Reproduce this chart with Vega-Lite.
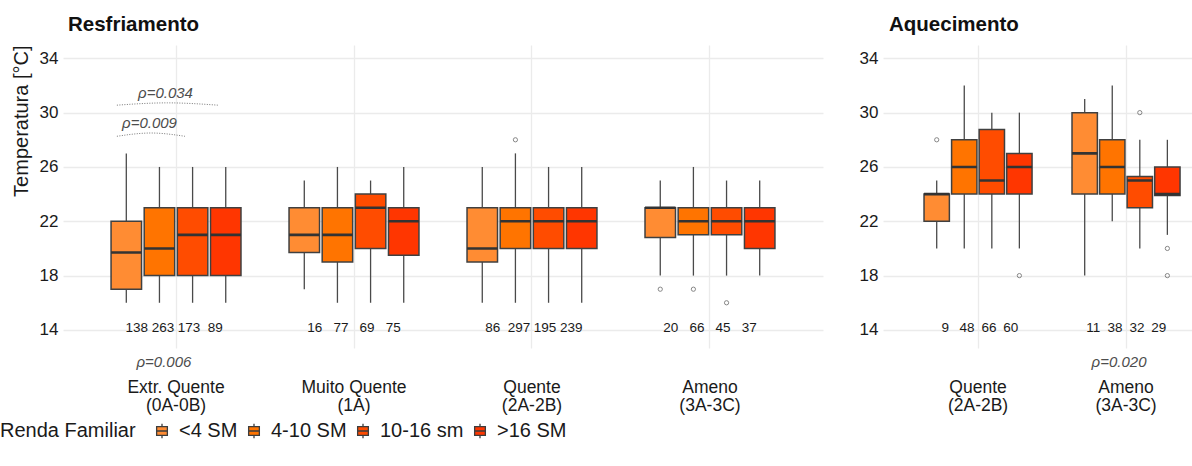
{
  "$schema": "https://vega.github.io/schema/vega-lite/v6.json",
  "background": "white",
  "padding": {"left": 0, "top": 14, "right": 0, "bottom": 0},
  "autosize": {"type": "pad"},
  "spacing": 36,
  "resolve": {"scale": {"xOffset": "independent"}},
  "config": {
    "font": "Liberation Sans",
    "view": {"stroke": null},
    "axisX": {
      "domain": false, "ticks": false, "grid": true, "gridColor": "#ebebeb", "gridWidth": 1.3,
      "bandPosition": 0.5, "labelAngle": 0, "labelFontSize": 17.5, "labelColor": "#1a1a1a",
      "labelPadding": 30, "labelLineHeight": 18, "labelExpr": "split(datum.label, '\\n')", "title": null, "labelOverlap": false
    },
    "axisY": {
      "domain": false, "ticks": false, "grid": true, "gridColor": "#ebebeb", "gridWidth": 1.3,
      "labelFontSize": 17, "labelColor": "#1a1a1a", "labelPadding": 5,
      "titleFontSize": 20, "titleFontWeight": "normal", "titleColor": "#1a1a1a", "titleAnchor": "end", "titlePadding": 8
    },
    "title": {"fontSize": 20.5, "fontWeight": "bold", "color": "#111111", "anchor": "start", "frame": "group", "offset": 10},
    "text": {"fontSize": 13.5, "color": "#1a1a1a", "baseline": "middle"},
    "legend": {
      "orient": "none", "legendX": -63, "legendY": 376, "direction": "horizontal", "titleOrient": "left",
      "titleFontSize": 20, "titleFontWeight": "normal", "titleColor": "#1a1a1a", "titlePadding": 16,
      "labelFontSize": 20, "labelColor": "#1a1a1a", "labelOffset": 7, "columnPadding": 6,
      "symbolType": "M-0.62,-0.5H0.62V0.5H-0.62Z M-0.62,0H0.62 M0,-0.85V-0.5 M0,0.5V0.85",
      "symbolSize": 300, "symbolStrokeColor": "#3d3d3d", "symbolStrokeWidth": 1.3, "symbolOpacity": 1
    }
  },
  "datasets": {
    "stats_r": [
      {"clima": "Extr. Quente\n(0A-0B)", "renda": "<4 SM", "lo": 16, "q1": 17, "med": 19.7, "q3": 22, "hi": 27, "n": 138},
      {"clima": "Extr. Quente\n(0A-0B)", "renda": "4-10 SM", "lo": 16, "q1": 18, "med": 20, "q3": 23, "hi": 26, "n": 263},
      {"clima": "Extr. Quente\n(0A-0B)", "renda": "10-16 sm", "lo": 16, "q1": 18, "med": 21, "q3": 23, "hi": 26, "n": 173},
      {"clima": "Extr. Quente\n(0A-0B)", "renda": ">16 SM", "lo": 16, "q1": 18, "med": 21, "q3": 23, "hi": 26, "n": 89},
      {"clima": "Muito Quente\n(1A)", "renda": "<4 SM", "lo": 17, "q1": 19.7, "med": 21, "q3": 23, "hi": 25, "n": 16},
      {"clima": "Muito Quente\n(1A)", "renda": "4-10 SM", "lo": 16, "q1": 19, "med": 21, "q3": 23, "hi": 26, "n": 77},
      {"clima": "Muito Quente\n(1A)", "renda": "10-16 sm", "lo": 16, "q1": 20, "med": 23, "q3": 24, "hi": 25, "n": 69},
      {"clima": "Muito Quente\n(1A)", "renda": ">16 SM", "lo": 16, "q1": 19.5, "med": 22, "q3": 23, "hi": 26, "n": 75},
      {"clima": "Quente\n(2A-2B)", "renda": "<4 SM", "lo": 16, "q1": 19, "med": 20, "q3": 23, "hi": 26, "n": 86},
      {"clima": "Quente\n(2A-2B)", "renda": "4-10 SM", "lo": 16, "q1": 20, "med": 22, "q3": 23, "hi": 27, "n": 297},
      {"clima": "Quente\n(2A-2B)", "renda": "10-16 sm", "lo": 16, "q1": 20, "med": 22, "q3": 23, "hi": 26, "n": 195},
      {"clima": "Quente\n(2A-2B)", "renda": ">16 SM", "lo": 16, "q1": 20, "med": 22, "q3": 23, "hi": 26, "n": 239},
      {"clima": "Ameno\n(3A-3C)", "renda": "<4 SM", "lo": 18, "q1": 20.8, "med": 23, "q3": 23, "hi": 25, "n": 20},
      {"clima": "Ameno\n(3A-3C)", "renda": "4-10 SM", "lo": 18, "q1": 21, "med": 22, "q3": 23, "hi": 26, "n": 66},
      {"clima": "Ameno\n(3A-3C)", "renda": "10-16 sm", "lo": 18, "q1": 21, "med": 22, "q3": 23, "hi": 25, "n": 45},
      {"clima": "Ameno\n(3A-3C)", "renda": ">16 SM", "lo": 18, "q1": 20, "med": 22, "q3": 23, "hi": 25, "n": 37}
    ],
    "out_r": [
      {"clima": "Quente\n(2A-2B)", "renda": "4-10 SM", "t": 28},
      {"clima": "Ameno\n(3A-3C)", "renda": "<4 SM", "t": 17},
      {"clima": "Ameno\n(3A-3C)", "renda": "4-10 SM", "t": 17},
      {"clima": "Ameno\n(3A-3C)", "renda": "10-16 sm", "t": 16}
    ],
    "arcs_r": [
      {"arc": "a", "x": 0.668, "y": 30.55},
      {"arc": "a", "x": 0.952, "y": 30.72},
      {"arc": "a", "x": 1.236, "y": 30.55},
      {"arc": "b", "x": 0.668, "y": 28.26},
      {"arc": "b", "x": 0.86, "y": 28.5},
      {"arc": "b", "x": 1.05, "y": 28.26}
    ],
    "notes_r": [
      {"x": 0.941, "y": 31.44, "label": "ρ=0.034"},
      {"x": 0.851, "y": 29.22, "label": "ρ=0.009"},
      {"x": 0.932, "y": 11.63, "label": "ρ=0.006"}
    ],
    "stats_a": [
      {"clima": "Quente\n(2A-2B)", "renda": "<4 SM", "lo": 20, "q1": 22, "med": 24, "q3": 24, "hi": 25, "n": 9},
      {"clima": "Quente\n(2A-2B)", "renda": "4-10 SM", "lo": 20, "q1": 24, "med": 26, "q3": 28, "hi": 32, "n": 48},
      {"clima": "Quente\n(2A-2B)", "renda": "10-16 sm", "lo": 20, "q1": 24, "med": 25, "q3": 28.75, "hi": 30, "n": 66},
      {"clima": "Quente\n(2A-2B)", "renda": ">16 SM", "lo": 20, "q1": 24, "med": 26, "q3": 27, "hi": 30, "n": 60},
      {"clima": "Ameno\n(3A-3C)", "renda": "<4 SM", "lo": 18, "q1": 24, "med": 27, "q3": 30, "hi": 31, "n": 11},
      {"clima": "Ameno\n(3A-3C)", "renda": "4-10 SM", "lo": 22, "q1": 24, "med": 26, "q3": 28, "hi": 32, "n": 38},
      {"clima": "Ameno\n(3A-3C)", "renda": "10-16 sm", "lo": 20, "q1": 23, "med": 25, "q3": 25.3, "hi": 28, "n": 32},
      {"clima": "Ameno\n(3A-3C)", "renda": ">16 SM", "lo": 21, "q1": 23.9, "med": 24, "q3": 26, "hi": 28, "n": 29}
    ],
    "out_a": [
      {"clima": "Quente\n(2A-2B)", "renda": "<4 SM", "t": 28},
      {"clima": "Quente\n(2A-2B)", "renda": ">16 SM", "t": 18},
      {"clima": "Ameno\n(3A-3C)", "renda": "10-16 sm", "t": 30},
      {"clima": "Ameno\n(3A-3C)", "renda": ">16 SM", "t": 20},
      {"clima": "Ameno\n(3A-3C)", "renda": ">16 SM", "t": 18}
    ],
    "notes_a": [
      {"x": 1.953, "y": 11.63, "label": "ρ=0.020"}
    ]
  },
  "hconcat": [
    {
      "width": 760,
      "height": 303,
      "title": {"text": "Resfriamento", "dx": 5},
      "resolve": {"scale": {"x": "independent"}},
      "layer": [
        {
          "encoding": {
            "x": {"field": "clima", "type": "nominal", "sort": null, "scale": {"paddingInner": 0.27, "paddingOuter": 0.27, "round": false}},
            "xOffset": {"field": "renda", "type": "nominal", "scale": {"domain": ["<4 SM", "4-10 SM", "10-16 sm", ">16 SM"], "paddingInner": 0.08, "paddingOuter": 0}}
          },
          "layer": [
            {
              "data": {"name": "stats_r"},
              "mark": {"type": "rule", "color": "#4a4a4a", "strokeWidth": 1.3},
              "encoding": {
                "y": {"field": "lo", "type": "quantitative", "scale": {"domain": [12.67, 34.98], "nice": false, "zero": false}, "axis": {"values": [14, 18, 22, 26, 30, 34]}, "title": "Temperatura [°C]"},
                "y2": {"field": "hi"}
              }
            },
            {
              "data": {"name": "stats_r"},
              "mark": {"type": "bar", "stroke": "#404040", "strokeWidth": 1.5, "opacity": 1},
              "encoding": {
                "y": {"field": "q1", "type": "quantitative"},
                "y2": {"field": "q3"},
                "color": {"field": "renda", "type": "nominal", "title": "Renda Familiar",
                  "scale": {"domain": ["<4 SM", "4-10 SM", "10-16 sm", ">16 SM"], "range": ["#ff8c33", "#ff7400", "#ff4c00", "#ff3600"]}}
              }
            },
            {
              "data": {"name": "stats_r"},
              "mark": {"type": "bar", "stroke": "#333333", "strokeWidth": 2.6, "fillOpacity": 0},
              "encoding": {
                "y": {"field": "med", "type": "quantitative"},
                "y2": {"field": "med"}
              }
            },
            {
              "data": {"name": "out_r"},
              "mark": {"type": "point", "shape": "circle", "size": 18, "stroke": "#555555", "strokeWidth": 1, "filled": false},
              "encoding": {
                "y": {"field": "t", "type": "quantitative"}
              }
            },
            {
              "data": {"name": "stats_r"},
              "encoding": {
                "y": {"datum": 14, "type": "quantitative"},
                "text": {"field": "n", "type": "quantitative"}
              },
              "layer": [
                {"transform": [{"filter": "datum.renda == '<4 SM'"}], "mark": {"type": "text", "dx": 10.5, "dy": -2}},
                {"transform": [{"filter": "datum.renda == '4-10 SM'"}], "mark": {"type": "text", "dx": 3.5, "dy": -2}},
                {"transform": [{"filter": "datum.renda == '10-16 sm'"}], "mark": {"type": "text", "dx": -3.5, "dy": -2}},
                {"transform": [{"filter": "datum.renda == '>16 SM'"}], "mark": {"type": "text", "dx": -10.5, "dy": -2}}
              ]
            }
          ]
        },
        {
          "data": {"name": "arcs_r"},
          "mark": {"type": "line", "interpolate": "monotone", "color": "#777777", "strokeWidth": 1, "strokeDash": [1, 1.5]},
          "encoding": {
            "x": {"field": "x", "type": "quantitative", "scale": {"domain": [0.3652, 4.6348], "nice": false, "zero": false}, "axis": null},
            "y": {"field": "y", "type": "quantitative"},
            "detail": {"field": "arc"}
          }
        },
        {
          "data": {"name": "notes_r"},
          "mark": {"type": "text", "fontSize": 15, "fontStyle": "italic", "color": "#4d4d4d", "baseline": "middle"},
          "encoding": {
            "x": {"field": "x", "type": "quantitative", "scale": {"domain": [0.3652, 4.6348], "nice": false, "zero": false}, "axis": null},
            "y": {"field": "y", "type": "quantitative"},
            "text": {"field": "label"}
          }
        }
      ]
    },
    {
      "width": 310,
      "height": 303,
      "title": {"text": "Aquecimento", "dx": 6},
      "resolve": {"scale": {"x": "independent"}},
      "layer": [
        {
          "encoding": {
            "x": {"field": "clima", "type": "nominal", "sort": null, "scale": {"paddingInner": 0.27, "paddingOuter": 0.1824, "align": 0.76, "round": false}},
            "xOffset": {"field": "renda", "type": "nominal", "scale": {"domain": ["<4 SM", "4-10 SM", "10-16 sm", ">16 SM"], "paddingInner": 0.08, "paddingOuter": 0}}
          },
          "layer": [
            {
              "data": {"name": "stats_a"},
              "mark": {"type": "rule", "color": "#4a4a4a", "strokeWidth": 1.3},
              "encoding": {
                "y": {"field": "lo", "type": "quantitative", "scale": {"domain": [12.67, 34.98], "nice": false, "zero": false}, "axis": {"values": [14, 18, 22, 26, 30, 34]}, "title": null},
                "y2": {"field": "hi"}
              }
            },
            {
              "data": {"name": "stats_a"},
              "mark": {"type": "bar", "stroke": "#404040", "strokeWidth": 1.5, "opacity": 1},
              "encoding": {
                "y": {"field": "q1", "type": "quantitative"},
                "y2": {"field": "q3"},
                "color": {"field": "renda", "type": "nominal", "title": "Renda Familiar",
                  "scale": {"domain": ["<4 SM", "4-10 SM", "10-16 sm", ">16 SM"], "range": ["#ff8c33", "#ff7400", "#ff4c00", "#ff3600"]}}
              }
            },
            {
              "data": {"name": "stats_a"},
              "mark": {"type": "bar", "stroke": "#333333", "strokeWidth": 2.6, "fillOpacity": 0},
              "encoding": {
                "y": {"field": "med", "type": "quantitative"},
                "y2": {"field": "med"}
              }
            },
            {
              "data": {"name": "out_a"},
              "mark": {"type": "point", "shape": "circle", "size": 18, "stroke": "#555555", "strokeWidth": 1, "filled": false},
              "encoding": {
                "y": {"field": "t", "type": "quantitative"}
              }
            },
            {
              "data": {"name": "stats_a"},
              "encoding": {
                "y": {"datum": 14, "type": "quantitative"},
                "text": {"field": "n", "type": "quantitative"}
              },
              "layer": [
                {"transform": [{"filter": "datum.renda == '<4 SM'"}], "mark": {"type": "text", "dx": 8.5, "dy": -2}},
                {"transform": [{"filter": "datum.renda == '4-10 SM'"}], "mark": {"type": "text", "dx": 2.8, "dy": -2}},
                {"transform": [{"filter": "datum.renda == '10-16 sm'"}], "mark": {"type": "text", "dx": -2.8, "dy": -2}},
                {"transform": [{"filter": "datum.renda == '>16 SM'"}], "mark": {"type": "text", "dx": -8.5, "dy": -2}}
              ]
            }
          ]
        },
        {
          "data": {"name": "notes_a"},
          "mark": {"type": "text", "fontSize": 15, "fontStyle": "italic", "color": "#4d4d4d", "baseline": "middle"},
          "encoding": {
            "x": {"field": "x", "type": "quantitative", "scale": {"domain": [0.358, 2.4527], "nice": false, "zero": false}, "axis": null},
            "y": {"field": "y", "type": "quantitative"},
            "text": {"field": "label"}
          }
        }
      ]
    }
  ]
}
